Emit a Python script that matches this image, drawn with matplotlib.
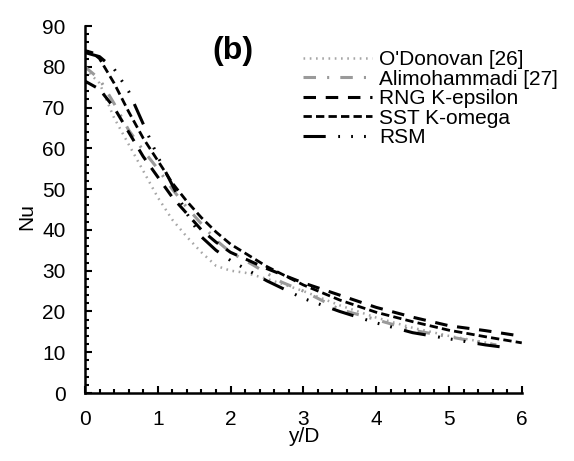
#!/usr/bin/env python

import numpy as np
import matplotlib
matplotlib.use('Agg')
import matplotlib.pyplot as plt
from matplotlib.ticker import MultipleLocator

plt.rcParams['font.family'] = ['Liberation Sans', 'DejaVu Sans']
plt.rcParams['lines.scale_dashes'] = False

# values
x_odonovan = [0, 0.2, 0.4, 0.6, 0.8, 1.0, 1.2, 1.4, 1.6, 1.8, 2.0, 2.2, 2.5, 3.0, 3.5, 4.0, 4.5, 5.0, 5.5, 5.6]
nu_odonovan = [79.5, 76, 67.5, 61, 54.5, 48, 42.5, 38.3, 34.5, 31.2, 30, 29.5, 28, 25, 21.5, 18.5, 16, 14, 12.4, 12]

x_ali = [0, 0.2, 0.4, 0.6, 0.8, 1.0, 1.2, 1.4, 1.6, 1.8, 2.0, 2.3, 2.7, 3.0, 3.5, 4.0, 4.5, 5.0, 5.25, 5.5, 5.65]
nu_ali = [80, 77, 71, 64.5, 59.5, 55, 50, 45.5, 41.5, 37.5, 34.5, 31.5, 27.2, 25, 20.5, 18, 15.4, 13.8, 13, 12.2, 11.8]

x_rng = [0, 0.2, 0.4, 0.6, 0.8, 1.0, 1.2, 1.4, 1.6, 1.8, 2.0, 2.5, 3.0, 3.5, 4.0, 4.5, 5.0, 5.5, 5.9]
nu_rng = [76.5, 74.5, 70, 64, 58, 53, 48, 44, 40, 37, 34.5, 30.5, 27, 24, 21, 18.6, 16.5, 15.3, 14.2]

x_sst = [0, 0.1, 0.2, 0.4, 0.6, 0.8, 1.0, 1.2, 1.4, 1.6, 1.8, 2.0, 2.5, 3.0, 3.5, 4.0, 4.5, 5.0, 5.5, 6.0]
nu_sst = [84, 83.5, 82, 76, 69, 62.5, 57, 51.5, 47, 43, 39.5, 36.5, 31, 26.5, 22.8, 19.8, 17.5, 15.4, 13.8, 12.3]

x_rsm = [0, 0.2, 0.4, 0.6, 0.8, 1.0, 1.2, 1.4, 1.6, 1.8, 2.0, 2.5, 3.0, 3.5, 4.0, 4.5, 5.0, 5.5, 5.85]
nu_rsm = [83.5, 82.5, 79.5, 74, 66, 58, 51, 44, 38.3, 35, 32.5, 27.5, 23.2, 20, 17.2, 14.8, 13.3, 11.8, 11]

labels = ["O'Donovan [26]", 'Alimohammadi [27]', 'RNG K-epsilon', 'SST K-omega', 'RSM']


def main():
    fig = plt.figure(figsize=(5.74, 4.61), dpi=100)
    ax = fig.add_axes([0.148, 0.1475, 0.761, 0.796])

    ax.plot(x_odonovan, nu_odonovan, color='#a6a6a6', lw=1.8,
            dashes=(1.2, 3.3), label=labels[0])
    ax.plot(x_ali, nu_ali, color='#9a9a9a', lw=2.2,
            dashes=(9, 8, 1.5, 8), label=labels[1])
    ax.plot(x_rng, nu_rng, color='black', lw=2.2,
            dashes=(9, 7), label=labels[2])
    ax.plot(x_sst, nu_sst, color='black', lw=2.0,
            dashes=(6, 3), label=labels[3])
    ax.plot(x_rsm, nu_rsm, color='black', lw=2.2,
            dashes=(16, 9, 1.3, 8, 1.3, 8, 1.3, 9), label=labels[4])

    ax.set_xlim(0, 6)
    ax.set_ylim(0, 90)
    ax.xaxis.set_major_locator(MultipleLocator(1))
    ax.xaxis.set_minor_locator(MultipleLocator(0.2))
    ax.yaxis.set_major_locator(MultipleLocator(10))
    ax.yaxis.set_minor_locator(MultipleLocator(2))
    ax.tick_params(which='major', direction='in', length=5, width=1.5, labelsize=15)
    ax.tick_params(axis='x', which='major', pad=12)
    ax.tick_params(axis='y', which='major', pad=14)
    ax.tick_params(which='minor', direction='in', length=3, width=1.5)

    for side in ['top', 'right']:
        ax.spines[side].set_visible(False)
    for side in ['left', 'bottom']:
        ax.spines[side].set_linewidth(1.8)

    ax.set_xlabel('y/D', fontsize=15, labelpad=-1)
    ax.set_ylabel('Nu', fontsize=15, va='center')
    ax.yaxis.set_label_coords(-0.133, 0.48)

    ax.text(2.03, 84, '(b)', fontsize=23, fontweight='bold', ha='center', va='center')

    ax.legend(loc='upper left', bbox_to_anchor=(0.499, 0.935), frameon=False,
              fontsize=15, handlelength=3.3, handletextpad=0.35,
              labelspacing=0.03, borderpad=0, borderaxespad=0)

    fig.savefig('out.png', dpi=100)


if __name__ == "__main__":
    main()
